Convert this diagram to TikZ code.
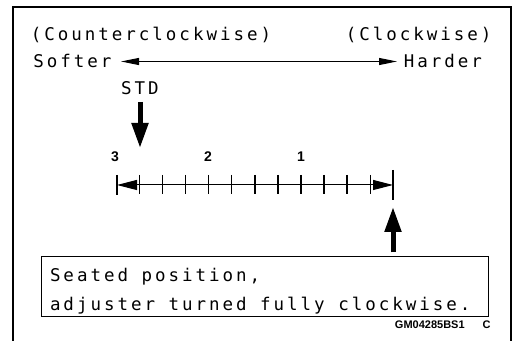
\documentclass[tikz,border=0pt]{standalone}
\usepackage{fontspec}
\usetikzlibrary{arrows.meta}
\newfontfamily\kfont[LetterSpace=17]{DejaVu Sans Mono}
\newfontfamily\knum{Liberation Sans}
\newcommand\vuoto{\nobreak\hspace{6.75pt}}
\tikzset{
  etich/.style={font=\kfont\fontsize{8.75pt}{14.5pt}\selectfont, inner sep=0pt},
  numero/.style={font=\knum\bfseries\fontsize{7pt}{8pt}\selectfont, inner sep=0pt},
  freccia/.style={line width=0.5pt, {Triangle[length=9pt,width=3.5pt]}-{Triangle[length=9pt,width=3.5pt]}},
  scala/.style={line width=0.5pt, {Triangle[length=10pt,width=5pt]}-{Triangle[length=10pt,width=5pt]}},
  grossa/.style={line width=2.5pt, -{Triangle[length=12.5pt,width=8pt]}},
  tacca/.style={line width=0.75pt}
}

\begin{document}
\begin{tikzpicture}[x=0.5pt,y=-0.5pt]
  \useasboundingbox (0,0) rectangle (520,341);

  % --- cornice aperta in basso ---------------------------------------------
  \draw[line width=1pt] (13,341) -- (13,7) -- (511,7) -- (511,341);

  % --- versi di rotazione ---------------------------------------------------
  \node[etich,anchor=base west] (antiorario) at (30.5,40.5) {(Counterclockwise)};
  \node[etich,anchor=base west] (orario)     at (345.5,40.5) {(Clockwise)};
  \node[etich,anchor=base west] (morbido)    at (33,68) {Softer};
  \node[etich,anchor=base west] (duro)       at (403.5,68) {Harder};
  \coordinate (morbidopunta) at (121,61.5);
  \coordinate (duropunta)    at (397,61.5);
  \draw[freccia] (morbidopunta) -- (duropunta);

  % --- scala dei giri --------------------------------------------------------
  \coordinate (inizio) at (117,185);
  \coordinate (fine)   at (393,185);
  \draw[scala] (inizio) -- (fine);
  \draw[tacca] (117,175) -- (117,195);
  \foreach \k in {0,...,10}
    \draw[tacca] (139.3+23.1*\k,175) -- ++(0,19);
  \draw[tacca] (393,170) -- (393,200);
  \coordinate (finebasso) at (393,200);
  \foreach \n/\x in {3/115,2/208,1/301}
    \node[numero,anchor=base] (giro\n) at (\x,162) {\n};

  % --- posizione standard ----------------------------------------------------
  \node[etich,anchor=base west] (std) at (120.7,95) {STD};
  \coordinate (stdpunta) at (140,148);
  \draw[grossa] (140,102) -- (stdpunta);

  % --- posizione di battuta ----------------------------------------------------
  \node[etich,draw,line width=0.5pt,text width=214.75pt,inner xsep=4.25pt,
        minimum height=30pt,align=left] (battuta) at (264.75,287)
        {\rule{0pt}{10.6pt}Seated\vuoto position,\\adjuster\vuoto turned\vuoto fully\vuoto clockwise.};
  \draw[grossa,shorten <=2pt,shorten >=3.5pt] (battuta.north -| finebasso) -- (finebasso);

  \node[numero,font=\knum\bfseries\fontsize{5.5pt}{6pt}\selectfont,anchor=base east]
    (codice) at (491,329) {GM04285BS1\hspace{9pt}C};
\end{tikzpicture}
\end{document}
